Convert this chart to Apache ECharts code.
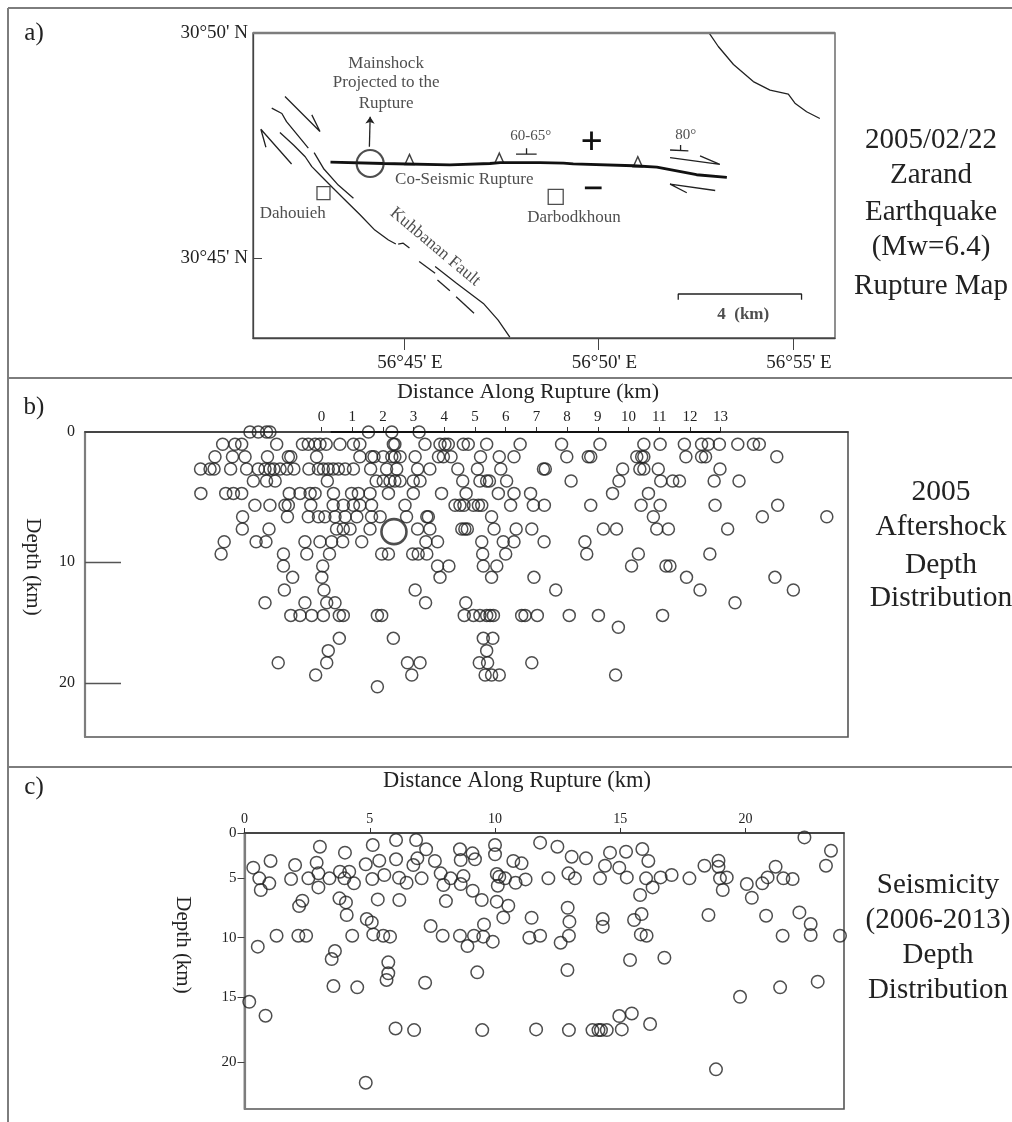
<!DOCTYPE html>
<html><head><meta charset="utf-8">
<style>html,body{margin:0;padding:0;background:#fff}#main{width:1012px;height:1122px;filter:blur(0.55px)}</style>
<script src="https://cdn.jsdelivr.net/npm/echarts@6/dist/echarts.min.js"></script>
</head><body><div id="main"></div>
<script>
// ---------- Panel a: rupture map (lon = minutes past 56°E, lat = minutes past 30°N)
const lonTicksA=[45,50,55], latTicksA=[45,50];
const kuhbananMainA=[[41.81,47.79],[42.16,47.51],[42.46,47.25],[42.63,47.03],[42.88,46.81],[43.18,46.55],[43.53,46.25],[43.87,45.96],[44.25,45.62],[44.60,45.40],[44.79,45.31]];
const kuhbananStub=[[44.85,45.31],[44.98,45.33],[45.14,45.22]];
const kuhbananMainB=[[45.80,44.81],[46.35,44.44],[47.04,43.99],[47.42,43.62],[47.72,43.24]];
const strand1=[[41.94,48.59],[42.84,47.81],[42.63,48.18]];
const strand2=[[41.60,48.33],[41.86,48.21],[41.98,48.03],[42.54,47.44]];
const strand3=[[42.11,47.09],[41.32,47.86],[41.45,47.46]];
const strand4=[[42.69,47.34],[42.93,46.99],[43.31,46.62],[43.70,46.33]];
const strand5=[[45.39,44.92],[45.80,44.66]];
const strand6=[[45.86,44.51],[46.18,44.27]];
const strand7=[[46.34,44.14],[46.80,43.77]];
const northEastFault=[[52.85,49.99],[53.08,49.70],[53.47,49.30],[53.98,48.92],[54.41,48.73],[54.88,48.64],[55.05,48.44],[55.35,48.25],[55.69,48.10]];
const dipTick1=[[47.88,47.31],[48.41,47.31]], dipStem1=[[48.15,47.44],[48.15,47.31]];
const dipTick2=[[51.84,47.40],[52.31,47.38]], dipStem2=[[52.11,47.51],[52.11,47.38]];
const slipUpper=[[51.84,47.23],[53.12,47.08],[52.61,47.27]];
const slipLower=[[53.00,46.50],[51.84,46.64],[52.27,46.45]];
const scaleBar=[[52.05,44.07],[52.05,44.20],[55.22,44.20],[55.22,44.07]];
const thinLines=[kuhbananMainA,kuhbananStub,kuhbananMainB,strand1,strand2,strand3,strand4,strand5,strand6,strand7,northEastFault,dipTick1,dipStem1,dipTick2,dipStem2,slipUpper,slipLower,scaleBar];
const coSeismicRupture=[[43.11,47.13],[44.47,47.10],[46.18,47.07],[47.21,47.10],[47.47,47.12],[48.50,47.12],[49.10,47.11],[49.35,47.09],[50.90,47.05],[51.50,47.02],[52.52,46.85],[53.30,46.79]];
const plusH=[[49.59,47.61],[50.06,47.61]], plusV=[[49.82,47.81],[49.82,47.40]], minusMark=[[49.65,46.56],[50.08,46.56]];
const thickLines=[coSeismicRupture,plusH,plusV,minusMark];
const thrustTriangles=[[45.14,47.19],[47.45,47.22],[51.01,47.14]];
const mainshockMap=[[44.13,47.10]];
const mainshockArrow=[[44.11,47.47],[44.13,48.14]];
const dahouiehBox=[[42.93,46.44]], darbodkhounBox=[[48.90,46.36]];
const mapNotes=[
 ['Mainshock',44.54,49.33,17,0,'normal'],['Projected to the',44.54,48.89,17,0,'normal'],['Rupture',44.54,48.44,17,0,'normal'],
 ['Co-Seismic Rupture',46.55,46.75,17,0,'normal'],['Dahouieh',42.14,45.99,17,0,'normal'],['Darbodkhoun',49.37,45.89,17,0,'normal'],
 ['60-65°',48.26,47.71,15,0,'normal'],['80°',52.24,47.73,15,0,'normal'],['4  (km)',53.72,43.75,17,0,'bold'],['Kuhbanan Fault',45.80,45.25,17.5,-40,'normal']];

// ---------- Panel b: 2005 aftershocks, depth rows and distances along each row
const depthTicksB=[0,10.36,20], depthLabelsB=['0','10','20'];
const distanceTicksB=[0,1,2,3,4,5,6,7,8,9,10,11,12,13];
const rowDepthsB=[0,0.98,1.97,2.95,3.90,4.89,5.84,6.75,7.73,8.74,9.72,10.68,11.58,12.59,13.60,14.61,15.56,16.44,17.42,18.38,19.36,20.29];
const rowDistB=[
 [-2.33,-2.06,-1.79,-1.68,1.53,2.29,3.18],
 [-3.22,-2.82,-2.60,-1.46,-0.62,-0.43,-0.21,-0.05,0.15,0.60,1.04,1.25,2.34,2.39,3.37,3.86,4.02,4.13,4.62,4.78,5.38,6.47,7.82,9.07,10.50,11.03,11.82,12.38,12.60,12.96,13.56,14.07,14.26],
 [-3.47,-2.90,-2.49,-1.76,-1.08,-1.00,-0.16,1.25,1.63,1.71,2.01,2.29,2.39,2.56,3.05,3.81,3.97,4.22,5.18,5.79,6.27,7.99,8.69,8.77,10.27,10.43,10.50,11.87,12.38,12.51,14.83],
 [-3.94,-3.63,-3.50,-2.96,-2.44,-2.06,-1.84,-1.68,-1.55,-1.35,-1.13,-0.90,-0.41,-0.10,0.06,0.22,0.38,0.55,0.77,1.04,1.60,2.12,2.45,3.13,3.53,4.44,5.08,5.84,7.23,7.29,9.81,10.37,10.50,10.97,12.98],
 [-2.22,-1.79,-1.51,0.19,1.78,2.01,2.23,2.39,2.56,2.99,3.21,4.60,5.16,5.38,5.47,6.03,8.13,9.69,11.05,11.44,11.66,12.79,13.60],
 [-3.93,-3.12,-2.87,-2.60,-1.05,-0.70,-0.37,-0.21,0.39,0.98,1.20,1.58,2.18,2.99,3.91,4.71,5.76,6.27,6.81,9.48,10.65],
 [-2.17,-1.68,-1.19,-1.08,-0.35,0.38,0.71,1.04,1.25,1.63,2.72,4.35,4.51,4.64,4.95,5.11,5.22,6.16,6.90,7.26,8.77,10.41,11.03,12.82,14.86],
 [-2.57,-1.11,-0.43,-0.10,0.11,0.44,0.77,1.15,1.63,1.91,2.77,3.43,3.48,5.54,10.81,14.36,16.46],
 [-2.58,-1.71,0.49,0.71,0.93,1.58,3.13,3.53,4.57,4.67,4.75,5.62,6.34,6.85,9.18,9.61,10.92,11.30,13.23],
 [-3.17,-2.13,-1.81,-0.54,-0.05,0.33,0.69,1.31,3.40,3.78,5.22,5.92,6.27,7.25,8.58],
 [-3.27,-1.24,-0.48,0.26,1.96,2.18,2.97,3.15,3.43,5.25,6.00,8.64,10.32,12.65],
 [-1.24,0.04,3.78,4.15,5.27,5.71,10.10,11.22,11.35],
 [-0.94,0.01,3.86,5.54,6.92,11.89,14.77],
 [-1.21,0.08,3.05,7.63,12.33,15.37],
 [-1.84,-0.54,0.17,0.44,3.39,4.70,13.47],
 [-1.00,-0.70,-0.32,0.06,0.58,0.71,1.82,1.96,4.65,4.95,5.16,5.38,5.49,5.60,6.52,6.63,7.03,8.07,9.02,11.11],
 [9.67],
 [0.58,2.34,5.27,5.58],
 [0.22,5.38],
 [-1.41,0.17,2.80,3.21,5.14,5.41,6.85],
 [-0.19,2.94,5.33,5.54,5.79,9.58],
 [1.82]];
const mainshockB=[[2.36,7.94]];
const ruptureExtentB=[[0.3,0],[13,0]];

// ---------- Panel c: 2006-2013 seismicity [distance km, depth km]
const depthTicksC=[1.2,5,10,15,20.48], depthLabelsC=['0','5','10','15','20'];
const distanceTicksC=[0,5,10,15,20];
const shallowC=[[0.35,4.11],[0.59,5.01],[0.65,5.99],[0.99,5.43],[1.04,3.55],[2.02,3.89],[1.86,5.07],[2.55,5.01],[2.88,3.69],[2.95,4.59],[2.95,5.77],[3.01,2.35],[3.39,5.01],[4.01,2.85],[3.81,4.45],[4.18,4.45],[3.99,5.01],[4.37,5.43],[4.84,3.83],[5.12,2.21],[5.10,5.07],[5.38,3.53],[5.58,4.73],[6.05,1.79],[6.05,3.41],[6.17,4.96],[6.47,5.38],[6.74,3.89],[6.90,3.33],[6.85,1.79],[7.07,5.01],[7.25,2.57],[7.60,3.55],[7.83,4.59],[7.94,5.57],[8.23,5.01],[8.60,2.57],[8.63,3.47],[8.74,4.82],[8.63,5.49],[9.10,2.91],[9.20,3.41],[9.11,6.05],[10.00,2.21],[10.00,2.99],[10.07,4.65],[10.17,4.87],[10.11,5.63],[10.40,5.01],[10.73,3.55],[11.06,3.75],[10.82,5.38],[11.22,5.10],[11.80,2.01],[12.13,5.01],
 [12.49,2.35],[13.06,3.19],[13.63,3.33],[14.59,2.85],[15.23,2.77],[15.88,2.55],[16.12,3.55],[14.39,3.95],[14.96,4.11],[12.93,4.59],[13.19,5.01],[14.19,5.01],[15.26,4.93],[16.03,5.01],[16.61,4.93],[17.05,4.73],[17.76,5.01],[16.29,5.77],[15.79,6.41],[18.36,3.95],[18.92,3.53],[18.92,4.03],[18.98,5.01],[19.25,4.93],[19.09,5.99],[20.05,5.49],[20.25,6.64],[20.67,5.43],[20.88,4.93],[21.20,4.03],[21.51,5.01],[21.88,5.07],[22.35,1.57],[23.41,2.69],[23.21,3.95]];
const middleC=[[3.79,6.69],[4.05,7.03],[4.08,8.09],[5.32,6.78],[6.18,6.83],[8.04,6.92],[9.47,6.83],[10.07,6.97],[10.53,7.31],[10.33,8.29],[11.46,8.32],[2.18,7.34],[2.31,6.89],[4.88,8.43],[5.08,8.71],[7.43,9.02],[9.56,8.88],[0.53,10.75],[1.28,9.83],[2.15,9.83],[2.46,9.83],[4.30,9.83],[5.14,9.72],[5.54,9.83],[5.81,9.91],[7.91,9.83],[8.60,9.83],[8.90,10.70],[9.16,9.83],[9.53,9.91],[9.91,10.33],[11.37,10.00],[11.80,9.83],
 [12.90,7.48],[12.97,8.65],[12.95,9.83],[12.62,10.42],[14.30,8.43],[14.30,9.07],[15.85,8.01],[15.55,8.51],[15.82,9.72],[16.05,9.83],[18.52,8.09],[20.82,8.15],[22.15,7.87],[22.60,8.85],[22.60,9.77],[21.48,9.83],[23.77,9.83]];
const deepC=[[3.61,11.12],[3.48,11.79],[5.74,12.07],[5.74,12.99],[5.67,13.55],[9.29,12.91],[3.55,14.06],[4.50,14.17],[7.21,13.78],[0.19,15.38],[0.84,16.55],[6.03,17.62],[6.77,17.76],[9.49,17.76],[11.64,17.70],[4.84,22.18],
 [15.39,11.87],[16.76,11.68],[12.89,12.71],[19.78,14.96],[21.38,14.17],[22.88,13.69],[12.95,17.76],[13.89,17.76],[14.13,17.76],[14.23,17.76],[14.46,17.76],[15.06,17.70],[14.96,16.58],[15.46,16.36],[16.19,17.25],[18.82,21.06]];

// ---------- Text
const panelLetters=[['a)',22,33],['b)',22,407],['c)',22,787]];
const sideTextA=['2005/02/22','Zarand','Earthquake','(Mw=6.4)','Rupture Map'], sideYA=[140,175,212,247,286];
const sideTextB=['2005','Aftershock','Depth','Distribution'], sideYB=[492,527,565,598];
const sideTextC=['Seismicity','(2006-2013)','Depth','Distribution'], sideYC=[885,920,955,990];
const xTitle='Distance Along Rupture (km)', yTitle='Depth (km)';

const ink='#222', frame='#7d7d7d', serif='"Liberation Serif","Times New Roman",serif';
const rowsB=rowDepthsB.flatMap((d,i)=>rowDistB[i].map(x=>[x,d]));
function lab(size){return {fontFamily:serif,fontSize:size,color:ink};}
function hollow(size,w){return {symbol:'circle',symbolSize:size,itemStyle:{color:'rgba(0,0,0,0)',borderColor:ink,borderWidth:w}};}
function line(pts,w,c){return {type:'line',xAxisIndex:0,yAxisIndex:0,data:pts,symbol:'none',silent:true,clip:false,lineStyle:{color:c||ink,width:w},z:3};}
const series=[];
thinLines.forEach(p=>series.push(line(p,1.3)));
thickLines.forEach(p=>series.push(line(p,2.8,'#111')));
series.push({type:'scatter',xAxisIndex:0,yAxisIndex:0,data:thrustTriangles,symbol:'triangle',symbolSize:[9,10],itemStyle:{color:'#fff',borderColor:'#111',borderWidth:1.5},z:2});
series.push({type:'scatter',xAxisIndex:0,yAxisIndex:0,data:mainshockMap,...hollow(27,2.2),z:4});
series.push({type:'scatter',xAxisIndex:0,yAxisIndex:0,data:dahouiehBox,symbol:'rect',symbolSize:13,itemStyle:{color:'rgba(0,0,0,0)',borderColor:ink,borderWidth:1.3}});
series.push({type:'scatter',xAxisIndex:0,yAxisIndex:0,data:darbodkhounBox,symbol:'rect',symbolSize:15,itemStyle:{color:'rgba(0,0,0,0)',borderColor:ink,borderWidth:1.3}});
series.push({type:'lines',coordinateSystem:'cartesian2d',xAxisIndex:0,yAxisIndex:0,polyline:false,data:[{coords:mainshockArrow}],symbol:['none','arrow'],symbolSize:7,lineStyle:{color:ink,width:1.3,opacity:1},z:3});
series.push({type:'scatter',xAxisIndex:0,yAxisIndex:0,symbolSize:0,silent:true,
 data:mapNotes.map(n=>({value:[n[1],n[2]],label:{show:true,position:'inside',formatter:n[0],fontFamily:serif,fontSize:n[3],rotate:n[4],fontWeight:n[5],color:ink}})),z:5});
series.push({type:'scatter',xAxisIndex:1,yAxisIndex:1,data:rowsB,...hollow(12,1.5)});
series.push({type:'scatter',xAxisIndex:1,yAxisIndex:1,data:mainshockB,...hollow(25,2.6),z:4});
series.push({type:'line',xAxisIndex:1,yAxisIndex:1,data:ruptureExtentB,symbol:'none',clip:false,lineStyle:{color:'#111',width:2},z:4});
[shallowC,middleC,deepC].forEach(d=>series.push({type:'scatter',xAxisIndex:2,yAxisIndex:2,data:d,...hollow(12.5,1.5)}));

function tx(t,x,y,size,o){return Object.assign({type:'text',silent:true,x:x,y:y,style:{text:t,font:size+'px '+serif,fill:ink,textAlign:'center',textVerticalAlign:'middle'}},o||{});}
const frames=[[8,8,1012,8],[8,8,8,1122],[8,378,1012,378],[8,767,1012,767]].map(l=>({type:'line',silent:true,shape:{x1:l[0],y1:l[1],x2:l[2],y2:l[3]},style:{stroke:frame,lineWidth:2}}));
const topEdgeA={type:'line',silent:true,z:10,shape:{x1:253,y1:33,x2:835,y2:33},style:{stroke:frame,lineWidth:2.5}};
const texts=[
 ...panelLetters.map(p=>tx(p[0],p[1]+12,p[2],25)),
 ...sideTextA.map((t,i)=>tx(t,931,sideYA[i],29)),
 ...sideTextB.map((t,i)=>tx(t,941,sideYB[i],29.5)),
 ...sideTextC.map((t,i)=>tx(t,938,sideYC[i],29)),
 tx(xTitle,528,392,22), tx(xTitle,517,781,22.5),
 tx(yTitle,33,567,21,{rotation:-Math.PI/2}), tx(yTitle,183,945,21,{rotation:-Math.PI/2})
];

const chart=echarts.init(document.getElementById('main'));
const boxLine={show:true,onZero:false,lineStyle:{color:frame,width:2.2}};
chart.setOption({
 animation:false,backgroundColor:'#fff',
 grid:[
  {left:253,top:33,width:582,height:305,show:true,borderColor:'#555',borderWidth:1.3,backgroundColor:'transparent'},
  {left:85,top:432,width:763,height:305,show:true,borderColor:'#555',borderWidth:1.6,backgroundColor:'transparent'},
  {left:244.5,top:833,width:599.5,height:276,show:true,borderColor:'#555',borderWidth:1.6,backgroundColor:'transparent'}],
 xAxis:[
  {gridIndex:0,type:'value',min:41.118,max:56.08,position:'bottom',splitLine:{show:false},axisLine:{show:true,onZero:false,lineStyle:{color:'#444',width:1.3}},
   axisTick:{show:true,customValues:lonTicksA,length:12,lineStyle:{color:'#444'}},
   axisLabel:{customValues:lonTicksA,...lab(19),margin:16,padding:[0,0,0,12],formatter:v=>`56°${v}' E`}},
  {gridIndex:1,type:'value',min:-7.704,max:17.15,position:'top',splitLine:{show:false},axisLine:{show:true,onZero:false,lineStyle:{color:'#333',width:1.5}},
   axisTick:{show:true,customValues:distanceTicksB,length:5,lineStyle:{color:'#333'}},
   axisLabel:{customValues:distanceTicksB,...lab(15),margin:7}},
  {gridIndex:2,type:'value',min:0,max:23.93,position:'top',splitLine:{show:false},axisLine:{show:true,onZero:false,lineStyle:{color:'#333',width:1.5}},
   axisTick:{show:true,customValues:distanceTicksC,length:5,lineStyle:{color:'#333'}},
   axisLabel:{customValues:distanceTicksC,...lab(14),margin:7}}],
 yAxis:[
  {gridIndex:0,type:'value',min:43.222,max:50,position:'left',splitLine:{show:false},axisLine:{show:true,onZero:false,lineStyle:{color:'#444',width:1.3}},
   axisTick:{show:true,customValues:[latTicksA[0]],inside:true,length:9,lineStyle:{color:'#444'}},
   axisLabel:{customValues:latTicksA,...lab(19),margin:5,formatter:v=>`30°${v}' N`}},
  {gridIndex:1,type:'value',inverse:true,min:0,max:24.3,position:'left',splitLine:{show:false},axisLine:boxLine,
   axisTick:{show:true,customValues:depthTicksB.slice(1),inside:true,length:36,lineStyle:{color:'#555',width:1.4}},
   axisLabel:{customValues:depthTicksB,...lab(16),margin:10,formatter:v=>depthLabelsB[depthTicksB.indexOf(v)]}},
  {gridIndex:2,type:'value',inverse:true,min:1.2,max:24.39,position:'left',splitLine:{show:false},axisLine:boxLine,
   axisTick:{show:true,customValues:depthTicksC,length:7,lineStyle:{color:'#444'}},
   axisLabel:{customValues:depthTicksC,...lab(15),margin:8,formatter:v=>depthLabelsC[depthTicksC.indexOf(v)]}}],
 series:series,
 graphic:[...frames,topEdgeA,...texts]
});
</script></body></html>
